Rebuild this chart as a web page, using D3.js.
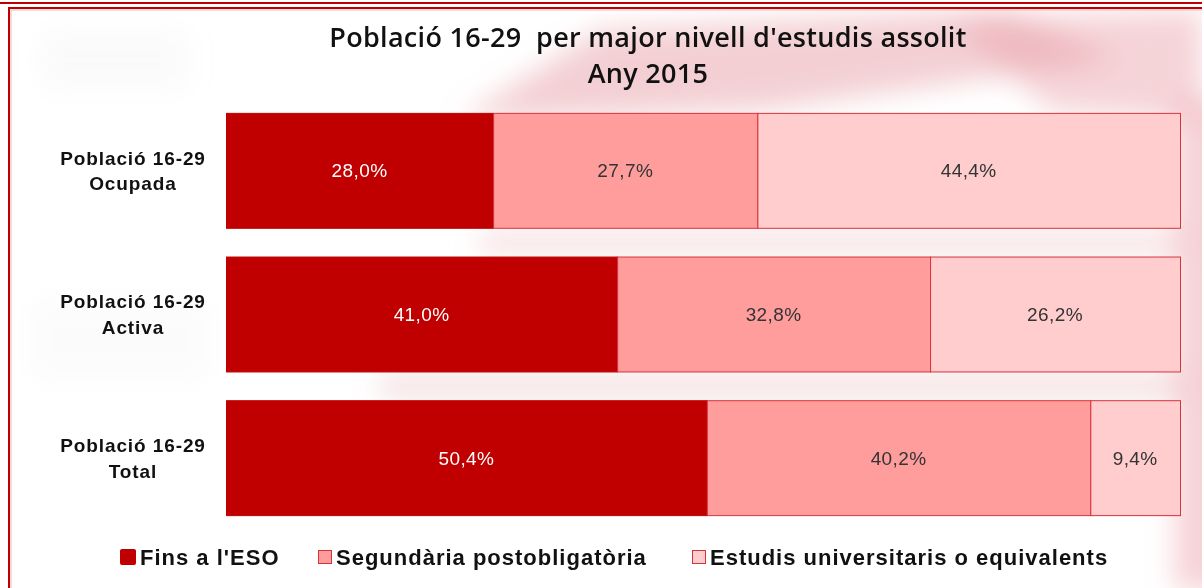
<!DOCTYPE html>
<meta charset="utf-8">
<style>
body { margin: 0; background: #fff; }
.title { font-family: "Open Sans", "DejaVu Sans", sans-serif; font-weight: 600; font-size: 27px; letter-spacing: 0.3px; fill: #111; white-space: pre; }
.cat { font-family: "Liberation Sans", Arial, sans-serif; font-weight: bold; font-size: 19px; letter-spacing: 0.9px; fill: #111; }
.val { font-family: "Liberation Sans", Arial, sans-serif; font-size: 19px; letter-spacing: 0.4px; }
.leg { font-family: "Liberation Sans", Arial, sans-serif; font-weight: bold; font-size: 22px; letter-spacing: 1px; fill: #111; }
</style>
<body>
<svg width="1202" height="588"></svg>
</body>
<script src="https://cdn.jsdelivr.net/npm/d3@7"></script>
<script>
var categories = ["Població 16-29|Ocupada", "Població 16-29|Activa", "Població 16-29|Total"];
var series = ["Fins a l'ESO", "Segundària postobligatòria", "Estudis universitaris o equivalents"];
var finsESO = [28.0, 41.0, 50.4];
var segundaria = [27.7, 32.8, 40.2];
var universitaris = [44.4, 26.2, 9.4];
var titleLines = ["Població 16-29  per major nivell d'estudis assolit", "Any 2015"];

var fills = ["#c00000", "#ff9d9d", "#ffcdcd"];
var strokes = ["#c00000", "#d8323a", "#d8323a"];
var textCol = ["#ffffff", "#333333", "#333333"];

var values = [finsESO, segundaria, universitaris];
var rows = categories.map(function(c, i) {
    var o = {cat: c};
    series.forEach(function(s, j) { o[s] = values[j][i]; });
    return o;
});
var stacked = d3.stack().keys(series)(rows);

var svg = d3.select("svg");

// faded background decoration
var defs = svg.append("defs");
defs.append("filter").attr("id", "blur")
    .attr("x", "-50%").attr("y", "-50%").attr("width", "200%").attr("height", "200%")
  .append("feGaussianBlur").attr("stdDeviation", 14);
defs.append("clipPath").attr("id", "frameClip")
  .append("rect").attr("x", 10).attr("y", 9).attr("width", 1192).attr("height", 579);

var bg = svg.append("g").attr("clip-path", "url(#frameClip)").attr("filter", "url(#blur)");
bg.append("path").attr("d", "M460,120 L600,30 L1010,10 L1120,60 L760,110 Z")
    .attr("fill", "#e8a0a8").attr("opacity", 0.5);
bg.append("path").attr("d", "M950,20 L1202,10 L1202,120 L1050,110 Z")
    .attr("fill", "#e8a0a8").attr("opacity", 0.45);
bg.append("rect").attr("x", 1175).attr("y", 100).attr("width", 60).attr("height", 490)
    .attr("fill", "#eda5ae").attr("opacity", 0.5);
bg.append("rect").attr("x", 480).attr("y", 232).attr("width", 700).attr("height", 20)
    .attr("fill", "#eab3b8").attr("opacity", 0.45);
bg.append("rect").attr("x", 380).attr("y", 376).attr("width", 800).attr("height", 20)
    .attr("fill", "#e8b3b8").attr("opacity", 0.5);
bg.append("rect").attr("x", 40).attr("y", 30).attr("width", 150).attr("height", 60)
    .attr("fill", "#e0e0e0").attr("opacity", 0.15);
bg.append("rect").attr("x", 30).attr("y", 300).attr("width", 180).attr("height", 80)
    .attr("fill", "#e0e0e0").attr("opacity", 0.12);

// frames
svg.append("rect").attr("x", -5).attr("y", -10).attr("width", 1220).attr("height", 13)
    .attr("fill", "none").attr("stroke", "#c00000").attr("stroke-width", 2);
svg.append("rect").attr("x", 9).attr("y", 8).attr("width", 1210).attr("height", 600)
    .attr("fill", "none").attr("stroke", "#c00000").attr("stroke-width", 2);
svg.append("rect").attr("x", 11).attr("y", 10).attr("width", 1210).attr("height", 600)
    .attr("fill", "none").attr("stroke", "#f2b8bc").attr("stroke-width", 1);

// title
svg.append("g").selectAll("text").data(titleLines).enter().append("text")
    .attr("class", "title")
    .attr("x", 648)
    .attr("y", function(d, i) { return 47 + i * 36; })
    .attr("text-anchor", "middle")
    .text(function(d) { return d; });

var x = d3.scaleLinear().domain([0, 100]).range([226, 1180]);
var y = d3.scaleBand().domain(categories).range([98.5, 529.5]).paddingInner(0.2).paddingOuter(0.1);

var layer = svg.append("g").selectAll("g")
    .data(stacked).enter().append("g");

layer.selectAll("rect")
    .data(function(d) { return d.map(function(p) { p.idx = d.index; return p; }); })
    .enter().append("rect")
    .attr("x", function(d) { return x(d[0]) + 0.5; })
    .attr("y", function(d) { return y(d.data.cat) + 0.5; })
    .attr("width", function(d) { return Math.min(x(d[1]), 1180) - x(d[0]); })
    .attr("height", y.bandwidth())
    .attr("fill", function(d) { return fills[d.idx]; })
    .attr("stroke", function(d) { return strokes[d.idx]; })
    .attr("stroke-width", 1);

layer.selectAll("text")
    .data(function(d) { return d; })
    .enter().append("text")
    .attr("class", "val")
    .attr("x", function(d) { return (x(d[0]) + Math.min(x(d[1]), 1180)) / 2; })
    .attr("y", function(d) { return y(d.data.cat) + y.bandwidth() / 2; })
    .attr("dy", "0.36em")
    .attr("text-anchor", "middle")
    .attr("fill", function(d) { return textCol[d.idx]; })
    .text(function(d) { return d3.format(".1f")(d[1] - d[0]).replace(".", ",") + "%"; });

// category labels
var catG = svg.append("g").selectAll("text").data(categories).enter().append("text")
    .attr("class", "cat")
    .attr("text-anchor", "middle")
    .attr("x", 133)
    .attr("y", function(d) { return y(d) + y.bandwidth() / 2; });
catG.selectAll("tspan")
    .data(function(d) { return d.split("|"); })
    .enter().append("tspan")
    .attr("x", 133)
    .attr("dy", function(d, i) { return i === 0 ? "-0.3em" : "1.35em"; })
    .text(function(d) { return d; });

// legend
var legX = [120, 318, 692];
var leg = svg.append("g").selectAll("g").data(series).enter().append("g")
    .attr("transform", function(d, i) { return "translate(" + legX[i] + ",557)"; });
leg.append("rect")
    .attr("x", function(d, i) { return i === 0 ? 0 : 0.5; })
    .attr("y", function(d, i) { return i === 0 ? -8 : -6.5; })
    .attr("width", function(d, i) { return i === 0 ? 16 : 13; })
    .attr("height", function(d, i) { return i === 0 ? 16 : 13; })
    .attr("rx", function(d, i) { return i === 0 ? 2 : 0; })
    .attr("fill", function(d, i) { return fills[i]; })
    .attr("stroke", function(d, i) { return i === 0 ? "none" : "#d8323a"; });
leg.append("text")
    .attr("class", "leg")
    .attr("x", function(d, i) { return i === 0 ? 20 : 18; })
    .attr("dy", "0.36em")
    .text(function(d) { return d; });
</script>
